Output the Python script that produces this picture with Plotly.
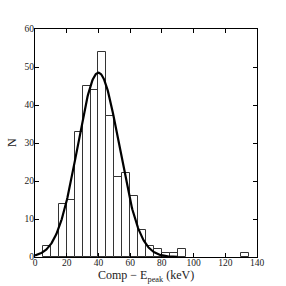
import numpy as np
import plotly.graph_objects as go

# Histogram bins (left edges, keV) and counts
bin_left = [5, 10, 15, 20, 25, 30, 35, 40, 45, 50, 55, 60, 65, 70, 75, 80, 85, 90, 130]
counts   = [3, 0, 14, 15, 33, 45, 44, 54, 37, 21, 22, 16, 7, 3, 2, 1, 1, 2, 1]
bin_width = 5

# Gaussian fit parameters
fit_amp = 48.5
fit_mean = 40.0
fit_sigma = 13.0
fit_xmin, fit_xmax = 0, 90

x_title = "Comp − E<sub>peak</sub> (keV)"
y_title = "N"

xc = [b + bin_width / 2 for b in bin_left]
xf = np.linspace(fit_xmin, fit_xmax, 300)
yf = fit_amp * np.exp(-(xf - fit_mean) ** 2 / (2 * fit_sigma ** 2))

fig = go.Figure()
fig.add_trace(go.Bar(x=xc, y=counts, width=bin_width,
                     marker=dict(color="white", line=dict(color="#333333", width=1)),
                     showlegend=False))
fig.add_trace(go.Scatter(x=xf, y=yf, mode="lines",
                         line=dict(color="black", width=2.2), showlegend=False))

font = "Liberation Serif, Times New Roman, serif"
axis_common = dict(showline=True, linecolor="black", linewidth=1, mirror="ticks",
                   ticks="inside", ticklen=4, tickcolor="black", showgrid=False,
                   zeroline=False, automargin=False,
                   tickfont=dict(family=font, size=9.5, color="#222"))
fig.update_layout(
    width=286, height=286,
    margin=dict(l=35, r=29, t=29, b=29),
    paper_bgcolor="white", plot_bgcolor="white",
    bargap=0,
    xaxis=dict(range=[0, 140], dtick=20, ticklabelstandoff=-3, **axis_common),
    yaxis=dict(range=[0, 60], dtick=10, ticklabelstandoff=-2, **axis_common),
    annotations=[
        dict(text=x_title, xref="paper", yref="paper", x=0.5, y=0,
             yshift=-19, yanchor="middle", showarrow=False,
             font=dict(family=font, size=12, color="#222")),
        dict(text=y_title, xref="paper", yref="paper", x=0, y=0.5,
             xshift=-14, xanchor="right", yanchor="middle", textangle=-90,
             showarrow=False,
             font=dict(family=font, size=12, color="#222")),
    ],
)
fig.write_html("out.html", config={"displayModeBar": False},
               post_script="document.body.style.margin='0';")
